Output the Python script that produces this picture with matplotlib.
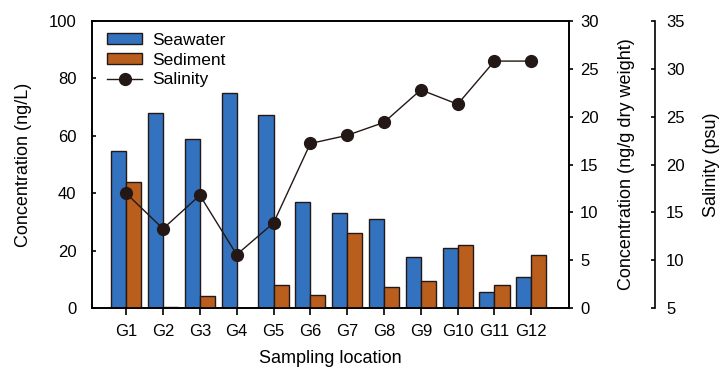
import numpy as np
import matplotlib
matplotlib.use("Agg")
import matplotlib.pyplot as plt

plt.rcParams['font.family'] = ['Liberation Sans', 'DejaVu Sans']

sites = ["G1", "G2", "G3", "G4", "G5", "G6", "G7", "G8", "G9", "G10", "G11", "G12"]
seawater = [54.8, 68.0, 59.0, 75.0, 67.3, 37.1, 33.3, 31.0, 17.7, 21.1, 5.8, 10.8]   # ng/L
sediment = [13.2, 0.15, 1.25, 0.0, 2.43, 1.39, 7.83, 2.19, 2.88, 6.64, 2.43, 5.56]   # ng/g dw
salinity = [17.0, 13.3, 16.8, 10.6, 13.9, 22.2, 23.05, 24.4, 27.8, 26.3, 30.8, 30.8]  # psu

blue = "#3372be"
orange = "#ba5e1e"
dark = "#231815"

fig = plt.figure(figsize=(7.21, 3.69), dpi=100)
ax = fig.add_axes([0.127, 0.1645, 0.662, 0.779])
ax2 = ax.twinx()
ax3 = ax.twinx()

x = np.arange(len(sites))
w = 0.41
b1 = ax.bar(x, seawater, width=-w, align="edge", color=blue, edgecolor=dark, linewidth=1.0, label="Seawater")
b2 = ax2.bar(x, sediment, width=w, align="edge", color=orange, edgecolor=dark, linewidth=1.0, label="Sediment")
l3, = ax3.plot(x, salinity, color=dark, lw=1.0, marker="o", ms=8.5, mfc=dark, mec=dark, label="Salinity")

ax.set_xlim(-0.94, 12.02)
ax.set_ylim(0, 100)
ax.set_yticks(np.arange(0, 101, 20))
ax2.set_ylim(0, 30)
ax2.set_yticks(np.arange(0, 31, 5))
ax3.set_ylim(5, 35)
ax3.set_yticks(np.arange(5, 36, 5))

ax.set_xticks(x)
ax.set_xticklabels(sites)
ax.tick_params(axis="x", direction="out", length=5, width=1.2, labelsize=12, pad=6)
ax.tick_params(axis="y", direction="in", length=3, width=1.2, labelsize=12, pad=11)
ax2.tick_params(axis="y", direction="out", length=3, width=1.2, labelsize=12, pad=5)
ax3.tick_params(axis="y", direction="in", length=3, width=1.2, labelsize=12, pad=8)

for s in ax.spines.values():
    s.set_linewidth(1.2)
for s in ax2.spines.values():
    s.set_linewidth(1.2)
ax3.spines["right"].set_position(("outward", 62))
ax3.spines["right"].set_linewidth(1.2)
ax3.spines["top"].set_visible(False)
ax3.spines["left"].set_visible(False)
ax3.spines["bottom"].set_visible(False)

ax.set_xlabel("Sampling location", fontsize=13, labelpad=8)
ax.set_ylabel("Concentration (ng/L)", fontsize=13, labelpad=12)
ax2.set_ylabel("Concentration (ng/g dry weight)", fontsize=13, labelpad=14)
ax3.set_ylabel("Salinity (psu)", fontsize=13, labelpad=13)

ax.legend([b1, b2, l3], ["Seawater", "Sediment", "Salinity"], loc="upper left",
          bbox_to_anchor=(0.009, 0.998),
          frameon=False, fontsize=12.5, handlelength=2.0, handleheight=0.55,
          labelspacing=0.28, borderaxespad=0.3, borderpad=0.35, handletextpad=0.6)

fig.savefig("out.png", dpi=100)
